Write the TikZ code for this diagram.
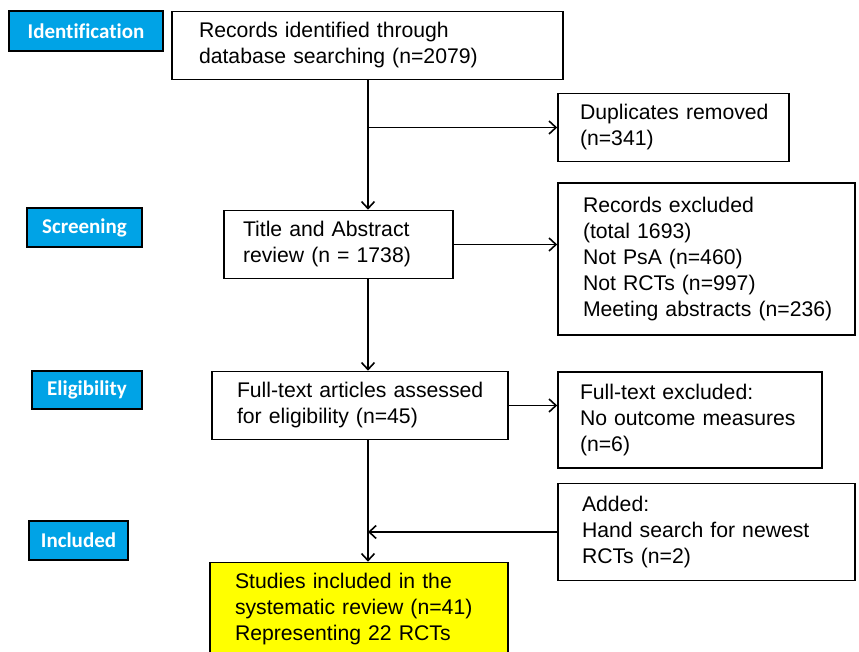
\documentclass[tikz,border=0pt]{standalone}
\usepackage{fontspec}
\setmainfont{Liberation Sans}
\newfontfamily\stagefont[Ligatures=NoCommon]{Carlito}
\usetikzlibrary{arrows.meta}
\definecolor{stageblue}{RGB}{0,163,230}
\definecolor{hiyellow}{RGB}{255,255,0}
\begin{document}
\begin{tikzpicture}[x=1pt, y=-1pt, >={Straight Barb[length=7pt,width=13pt]},
    box/.style={draw, line width=1.6pt, align=left, inner xsep=2pt, inner ysep=0pt,
        execute at begin node={\leftskip=#1}, font=\fontsize{21.2}{26}\selectfont},
    box/.default=22pt,
    stage/.style={draw, line width=1.6pt, fill=stageblue, text=white, inner sep=0pt,
        font=\stagefont\bfseries\fontsize{21}{24}\selectfont},
    link/.style={line width=1.6pt}]
\useasboundingbox (0,0) rectangle (859,652);

\node[stage, minimum width=154pt, minimum height=40pt] (ident) at (86,31) {Identification};
\node[stage, minimum width=115pt, minimum height=39pt] (screen) at (84.5,227.5) {Screening};
\node[stage, minimum width=110pt, minimum height=38pt] (elig) at (87,390) {Eligibility};
\node[stage, minimum width=99pt, minimum height=39pt] (incl) at (78.5,540.5) {Included};

\node[box=25pt, text width=387pt, minimum height=68pt] (rec) at (367.5,45.5)
    {Records identified through\\database searching (n=2079)};
\node[box=20pt, text width=227pt, minimum height=68pt] (dup) at (673.5,127.5)
    {Duplicates removed\\(n=341)};
\node[box=17pt, text width=225pt, minimum height=68pt] (title) at (338.5,244.5)
    {Title and Abstract\\review (n = 1738)};
\node[box=23pt, text width=293pt, minimum height=152pt] (excl) at (706.5,259)
    {Records excluded\\(total 1693)\\Not PsA (n=460)\\Not RCTs (n=997)\\Meeting abstracts (n=236)};
\node[box=23pt, text width=292pt, minimum height=68pt] (full) at (360,405.5)
    {Full-text articles assessed\\for eligibility (n=45)};
\node[box=20pt, text width=260pt, minimum height=96pt] (fexcl) at (690,420)
    {Full-text excluded:\\No outcome measures\\(n=6)};
\node[box=22pt, text width=293pt, minimum height=97pt] (added) at (706.5,532)
    {Added:\\Hand search for newest\\RCTs (n=2)};
\node[box=23pt, fill=hiyellow, text width=294pt, minimum height=94pt] (study) at (359,609.5)
    {Studies included in the\\systematic review (n=41)\\Representing 22 RCTs};

\coordinate (spine) at (368,0);
\draw[link, ->] (rec.south -| spine) -- (title.north -| spine);
\draw[link, ->] (dup.west -| spine) -- (dup.west);
\draw[link, ->] (title.east) -- (title.east -| excl.west);
\draw[link, ->] (title.south -| spine) -- (full.north -| spine);
\draw[link, ->] (full.east) -- (full.east -| fexcl.west);
\draw[link, ->] (full.south -| spine) -- (study.north -| spine);
\draw[link, ->] (added.west) -- (added.west -| spine);
\end{tikzpicture}
\end{document}
